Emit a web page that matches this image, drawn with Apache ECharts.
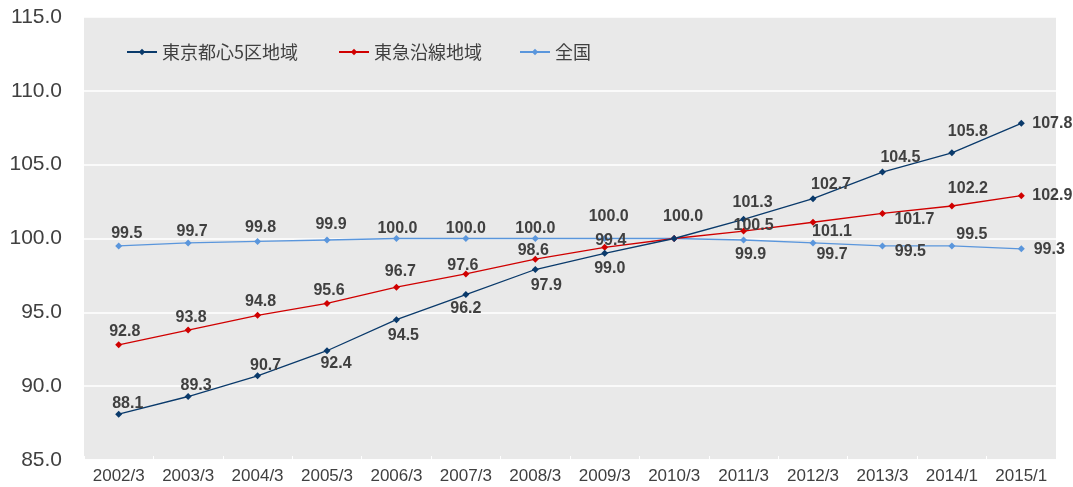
<!DOCTYPE html>
<html>
<head>
<meta charset="utf-8">
<script src="https://cdn.jsdelivr.net/npm/echarts@6/dist/echarts.min.js"></script>
<style>
  html, body { margin: 0; padding: 0; background: #ffffff; }
  #chart { width: 1073px; height: 487px; }
</style>
</head>
<body>
<div id="chart"></div>
<script>
// Price index (2010/3 = 100)
const categories = ['2002/3', '2003/3', '2004/3', '2005/3', '2006/3', '2007/3', '2008/3',
                    '2009/3', '2010/3', '2011/3', '2012/3', '2013/3', '2014/1', '2015/1'];
const tokyo5Wards = [88.1, 89.3, 90.7, 92.4, 94.5, 96.2, 97.9, 99.0, 100.0, 101.3, 102.7, 104.5, 105.8, 107.8];
const tokyuLine   = [92.8, 93.8, 94.8, 95.6, 96.7, 97.6, 98.6, 99.4, 100.0, 100.5, 101.1, 101.7, 102.2, 102.9];
const nationwide  = [99.5, 99.7, 99.8, 99.9, 100.0, 100.0, 100.0, 100.0, 100.0, 99.9, 99.7, 99.5, 99.5, 99.3];
const seriesNames = ['東京都心5区地域', '東急沿線地域', '全国'];
const yTicks = { min: 85, max: 115, step: 5 };

// Value-label placement: centre of each label relative to its marker, in px [dx, dy];
// null hides the label (the shared 2010/3 point is labelled once).
const tokyo5LabelAt = [[9,-11],[8,-11],[8,-10],[9,13],[7,16],[0,14],[11,16],[5,15],
                       null,[9,-17],[18,-14],[18,-14],[16,-21],[31,0]];
const tokyuLabelAt  = [[6,-13],[3,-12],[3,-14],[2,-13],[4,-16],[-3,-8],[-2,-9],[6,-7],
                       null,[10,-6],[19,9],[32,6],[16,-17],[31,0]];
const nationLabelAt = [[8,-12],[4,-11],[3,-14],[4,-15],[1,-10],[0,-10],[0,-10],[4,-22],
                       [9,-22],[7,15],[19,12],[28,6],[20,-11],[28,1]];

const colors = ['#0a3a6b', '#d00000', '#5a96dc'];
const symbolSize = 7;
const labelFont = { color: '#404040', fontSize: 16, fontWeight: 'bold', fontFamily: 'Liberation Sans, Arial, sans-serif' };

function buildData(values, placement) {
  const half = symbolSize / 2;
  return values.map((v, i) => {
    const p = placement[i];
    const label = p
      ? { show: true, position: [half + p[0], half + p[1]], align: 'center', verticalAlign: 'middle' }
      : { show: false };
    return { value: v, label: label };
  });
}

function lineSeries(name, values, placement, color) {
  return {
    name: name,
    type: 'line',
    data: buildData(values, placement),
    symbol: 'diamond',
    symbolSize: symbolSize,
    lineStyle: { color: color, width: 1.3 },
    itemStyle: { color: color },
    label: Object.assign({ show: true, formatter: p => p.value.toFixed(1) }, labelFont),
    labelLayout: { hideOverlap: false },
    emphasis: { disabled: true },
    animation: false
  };
}

const legendText = { color: '#404040', fontSize: 18, fontFamily: 'Noto Sans CJK JP, sans-serif' };
function legendAt(name, left) {
  return {
    data: [name], left: left, top: 38, itemWidth: 30, itemHeight: 8, itemGap: 0,
    textStyle: legendText, selectedMode: false
  };
}

const chart = echarts.init(document.getElementById('chart'), null, { renderer: 'canvas' });
chart.setOption({
  backgroundColor: '#ffffff',
  grid: {
    left: 84, right: 17, top: 17, bottom: 27,
    show: true, backgroundColor: '#e9e9e9', borderWidth: 0
  },
  legend: [legendAt(seriesNames[0], 121), legendAt(seriesNames[1], 333), legendAt(seriesNames[2], 514)],
  xAxis: {
    type: 'category',
    data: categories,
    boundaryGap: true,
    axisLine: { show: true, lineStyle: { color: '#ffffff', width: 1.5 } },
    axisTick: { show: true, inside: true, length: 4, lineStyle: { color: '#ffffff' } },
    axisLabel: { color: '#404040', fontSize: 17, margin: 8, fontFamily: 'Liberation Sans, Arial, sans-serif' },
    splitLine: { show: false }
  },
  yAxis: {
    type: 'value',
    min: yTicks.min, max: yTicks.max, interval: yTicks.step,
    axisLine: { show: false },
    axisTick: { show: false },
    axisLabel: { color: '#404040', fontSize: 21, margin: 22, formatter: v => v.toFixed(1),
                 fontFamily: 'Liberation Sans, Arial, sans-serif' },
    splitLine: { show: true, lineStyle: { color: '#ffffff', width: 1.5 } }
  },
  series: [
    lineSeries(seriesNames[2], nationwide, nationLabelAt, colors[2]),
    lineSeries(seriesNames[1], tokyuLine, tokyuLabelAt, colors[1]),
    lineSeries(seriesNames[0], tokyo5Wards, tokyo5LabelAt, colors[0])
  ]
});
</script>
</body>
</html>
